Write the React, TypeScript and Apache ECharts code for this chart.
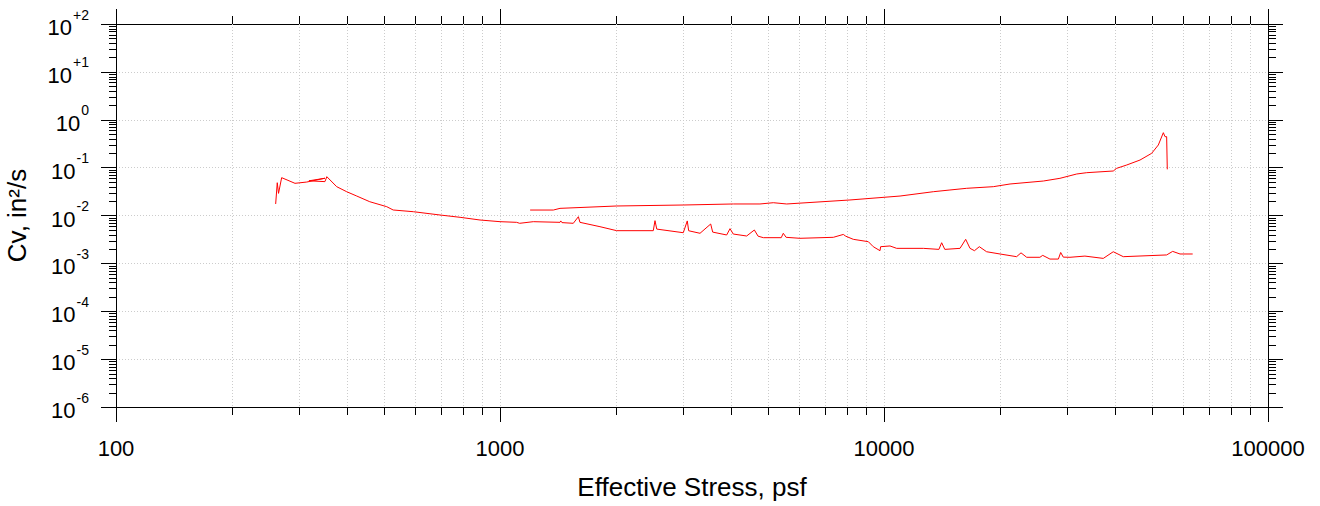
import React, { useEffect, useRef } from "react";
import * as echarts from "echarts";

// Loading curve (lower)
const lowerStress = [
  260.5, 263, 265, 270, 292.5, 313.8, 350, 318, 350, 354, 375.6, 398.8, 423.6, 458, 507, 527, 595, 698, 787, 887,
  1000, 1105, 1125, 1221, 1433, 1440, 1450, 1552, 1600, 1615, 1821, 2013, 2507, 2533, 2560, 3001, 3074, 3100,
  3318, 3537, 3580, 3893, 3972, 4050, 4389, 4596, 4700, 4851, 5400, 5467, 5560, 6042, 7379, 7834, 7950, 8318,
  9103, 9378, 9763, 9800, 10366, 10790, 12660, 13900, 14130, 14400, 15776, 16320, 16750, 17200, 17710, 18500,
  20050, 22150, 22740, 23530, 25470, 25900, 27050, 28450, 28850, 29300, 30500, 33360, 37240, 39540, 41990,
  54460, 56460, 59000, 63660,
];
const lowerCv = [
  0.0174, 0.0484, 0.029, 0.0617, 0.047, 0.05, 0.06, 0.053, 0.051, 0.0647, 0.04, 0.0314, 0.0255, 0.0194, 0.01528,
  0.01303, 0.012, 0.01024, 0.00917, 0.00805, 0.00743, 0.0072, 0.00687, 0.00743, 0.0072, 0.0077, 0.0071, 0.00687,
  0.00944, 0.0072, 0.00584, 0.00482, 0.00482, 0.0078, 0.0052, 0.00437, 0.0077, 0.0048, 0.00425, 0.00664, 0.0045,
  0.00392, 0.00531, 0.0041, 0.00373, 0.00498, 0.0037, 0.00344, 0.00344, 0.00425, 0.0035, 0.00334, 0.0035,
  0.00402, 0.0037, 0.00318, 0.00284, 0.00223, 0.00184, 0.00223, 0.00231, 0.00206, 0.00206, 0.00196, 0.0027,
  0.00196, 0.00206, 0.00318, 0.00206, 0.00184, 0.00223, 0.00175, 0.00157, 0.00138, 0.00166, 0.00134, 0.00134,
  0.00147, 0.00123, 0.00123, 0.00169, 0.00135, 0.00134, 0.00142, 0.00127, 0.00175, 0.00138, 0.0015, 0.00178,
  0.00157, 0.00157,
];

// Upper curve
const upperStress = [
  1198, 1377, 1433, 2013, 3001, 4052, 4753, 5150, 5579, 8153, 11010, 13440, 14850, 16420, 19260, 21290, 26000,
  28720, 31760, 33720, 39540, 40360, 42870, 46420, 49780, 51810, 53390, 53930, 54460, 54670,
];
const upperCv = [
  0.013, 0.013, 0.0141, 0.0158, 0.01656, 0.0174, 0.0174, 0.0185, 0.0174, 0.0211, 0.0255, 0.0314, 0.0341, 0.037,
  0.04, 0.0455, 0.0525, 0.0598, 0.0736, 0.0784, 0.085, 0.0967, 0.1135, 0.144, 0.199, 0.297, 0.537, 0.443, 0.443,
  0.0921,
];

const X_MIN = 100;
const X_MAX = 100000;
const Y_MIN = 1e-6;
const Y_MAX = 100;

const xMinorTicks = [
  200, 300, 400, 500, 600, 700, 800, 900,
  2000, 3000, 4000, 5000, 6000, 7000, 8000, 9000,
  20000, 30000, 40000, 50000, 60000, 70000, 80000, 90000,
];
const yDecades = [-6, -5, -4, -3, -2, -1, 0, 1];
const yMinorMultipliers = [2, 3, 4, 5, 6, 7, 8, 9];
const yMinorTicks: number[] = [];
yDecades.forEach((d) => yMinorMultipliers.forEach((m) => yMinorTicks.push(Number((m * Math.pow(10, d)).toPrecision(6)))));

const FONT = "'Liberation Sans', Arial, Helvetica, sans-serif";
const GRID_COLOR = "#cccccc";
const AXIS_COLOR = "#000000";

export default function App() {
  const ref = useRef<HTMLDivElement>(null);
  useEffect(() => {
    if (!ref.current) return;
    const chart = echarts.init(ref.current, null, { renderer: "svg" });
    const crisp = (v: number) => Math.round(v) + 0.5;

    const axisCommon = {
      type: "log" as const,
      logBase: 10,
      axisLine: { show: true, onZero: false, lineStyle: { color: AXIS_COLOR, width: 1 } },
      axisTick: { show: true, inside: false, length: 15, lineStyle: { color: AXIS_COLOR, width: 1 } },
    };

    const option: any = {
      animation: false,
      backgroundColor: "#ffffff",
      grid: { left: 116, right: 52, top: 24, bottom: 99, containLabel: false, outerBoundsMode: "none" },
      xAxis: [
        {
          ...axisCommon,
          min: X_MIN,
          max: X_MAX,
          splitNumber: 3,
          position: "bottom",
          axisLabel: {
            show: true,
            fontSize: 22,
            color: "#000",
            fontFamily: FONT,
            margin: 30,
            formatter: (v: number) => String(Math.round(v)),
          },
          splitLine: { show: true, lineStyle: { color: GRID_COLOR, type: [1, 2], width: 1 } },
          name: "Effective Stress, psf",
          nameLocation: "middle",
          nameGap: 67,
          nameTextStyle: { fontSize: 26, color: "#000", fontFamily: FONT },
        },
        {
          ...axisCommon,
          min: X_MIN,
          max: X_MAX,
          splitNumber: 3,
          position: "top",
          axisLabel: { show: false },
          splitLine: { show: false },
        },
      ],
      yAxis: [
        {
          ...axisCommon,
          min: Y_MIN,
          max: Y_MAX,
          splitNumber: 8,
          position: "left",
          axisLabel: {
            show: true,
            margin: 27,
            padding: [7, 0, 0, 0],
            formatter: (v: number) => {
              const e = Math.round(Math.log10(v));
              const s = e > 0 ? "+" + e : String(e);
              return "{b|10}{s|" + s + "}";
            },
            rich: {
              b: { fontSize: 22, fontFamily: FONT, color: "#000", lineHeight: 22, verticalAlign: "bottom" },
              s: {
                fontSize: 14,
                fontFamily: FONT,
                color: "#000",
                lineHeight: 14,
                padding: [0, 0, 17, 1],
                verticalAlign: "bottom",
              },
            },
          },
          splitLine: { show: true, lineStyle: { color: GRID_COLOR, type: [1, 2], width: 1 } },
          name: "Cv, in²/s",
          nameLocation: "middle",
          nameGap: 86,
          nameTextStyle: { fontSize: 26, color: "#000", fontFamily: FONT },
        },
        {
          ...axisCommon,
          min: Y_MIN,
          max: Y_MAX,
          splitNumber: 8,
          position: "right",
          axisLabel: { show: false },
          splitLine: { show: false },
        },
      ],
      series: [
        {
          type: "custom",
          xAxisIndex: 0,
          yAxisIndex: 0,
          silent: true,
          clip: false,
          z: 1,
          data: xMinorTicks.map((v) => [v, Y_MIN]),
          renderItem: (_params: any, api: any) => {
            const x = api.value(0);
            const top = api.coord([x, Y_MAX]);
            const bot = api.coord([x, Y_MIN]);
            const px = crisp(top[0]);
            return {
              type: "group",
              children: [
                {
                  type: "line",
                  shape: { x1: px, y1: top[1], x2: px, y2: bot[1] },
                  style: { stroke: GRID_COLOR, lineWidth: 1, lineDash: [1, 2] },
                },
                {
                  type: "line",
                  shape: { x1: px, y1: bot[1], x2: px, y2: bot[1] + 8 },
                  style: { stroke: AXIS_COLOR, lineWidth: 1 },
                },
                {
                  type: "line",
                  shape: { x1: px, y1: top[1] - 8, x2: px, y2: top[1] },
                  style: { stroke: AXIS_COLOR, lineWidth: 1 },
                },
              ],
            };
          },
        },
        {
          type: "custom",
          xAxisIndex: 0,
          yAxisIndex: 0,
          silent: true,
          clip: false,
          z: 1,
          data: yMinorTicks.map((v) => [X_MIN, v]),
          renderItem: (_params: any, api: any) => {
            const y = api.value(1);
            const left = api.coord([X_MIN, y]);
            const right = api.coord([X_MAX, y]);
            const py = crisp(left[1]);
            return {
              type: "group",
              children: [
                {
                  type: "line",
                  shape: { x1: left[0] - 7, y1: py, x2: left[0], y2: py },
                  style: { stroke: AXIS_COLOR, lineWidth: 1 },
                },
                {
                  type: "line",
                  shape: { x1: right[0], y1: py, x2: right[0] + 8, y2: py },
                  style: { stroke: AXIS_COLOR, lineWidth: 1 },
                },
              ],
            };
          },
        },
        {
          type: "line",
          name: "lower",
          xAxisIndex: 0,
          yAxisIndex: 0,
          showSymbol: false,
          symbol: "none",
          z: 5,
          lineStyle: { color: "#ff0000", width: 1 },
          data: lowerStress.map((x, i) => [x, lowerCv[i]]),
        },
        {
          type: "line",
          name: "upper",
          xAxisIndex: 0,
          yAxisIndex: 0,
          showSymbol: false,
          symbol: "none",
          z: 5,
          lineStyle: { color: "#ff0000", width: 1 },
          data: upperStress.map((x, i) => [x, upperCv[i]]),
        },
      ],
    };
    chart.setOption(option);
    return () => chart.dispose();
  }, []);
  return (
    <div
      ref={ref}
      style={{ position: "absolute", left: 0, top: 0, width: 1320, height: 506, background: "#fff" }}
    />
  );
}
